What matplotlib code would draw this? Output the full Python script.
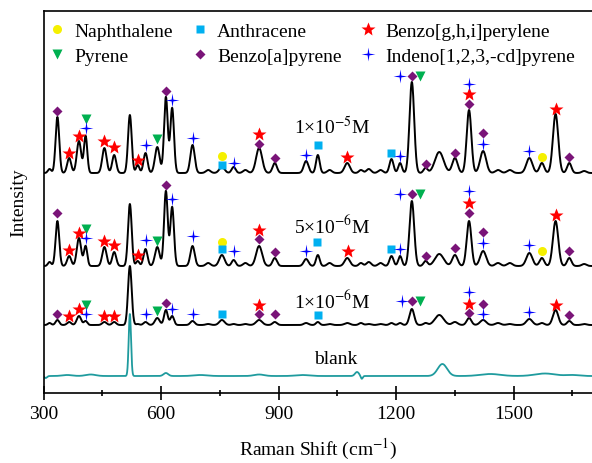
import numpy as np
import matplotlib.pyplot as plt

plt.rcParams['font.family'] = ['Liberation Serif', 'DejaVu Serif']
plt.rcParams['mathtext.fontset'] = 'stix'

# ------------------------------------------------------------------ #
# DATA  (intensity in arbitrary units)

shift_min, shift_max = 300, 1700

# peak table shared by the three PAH mixture spectra
peak_pos = [315, 335, 365, 390, 407, 455, 480, 520, 540, 560, 590, 612, 628, 680, 720, 755, 785, 815,
            850, 890, 970, 1000, 1030, 1075, 1110, 1130, 1160, 1188, 1210, 1240, 1275, 1310, 1350,
            1386, 1422, 1460, 1490, 1540, 1572, 1607, 1642, 1680]
peak_fwhm = [10, 11, 12, 13, 10, 13, 12, 11, 10, 12, 14, 11, 11, 13, 14, 16, 12, 14,
             18, 13, 14, 11, 14, 16, 12, 14, 14, 12, 11, 14, 12, 26, 16,
             14, 18, 16, 16, 18, 14, 16, 13, 14]
height_1e5 = [4, 56, 15, 32, 37, 25, 18, 58, 8, 20, 26, 76, 65, 28, 3, 6, 6, 3,
              25, 10, 12, 18, 3, 10, 3, 4, 3, 14, 10, 91, 5, 21, 15,
              63, 22, 3, 3, 15, 10, 59, 10, 2]
height_5e6 = [4, 45, 10, 28, 20, 19, 14, 62, 5, 17, 19, 75, 59, 20, 3, 11, 6, 3,
              20, 8, 7, 11, 3, 8, 3, 4, 3, 10, 10, 65, 5, 12, 11,
              45, 15, 3, 3, 13, 8, 45, 8, 2]
height_1e6 = [2, 5, 3, 9, 4, 3, 3, 59, 1, 3, 7, 15, 9, 4, 1, 5, 1, 1,
              5, 3, 2, 3, 1, 2, 2, 1, 1, 2, 2, 16, 2, 10, 3,
              7, 5, 2, 1, 6, 2, 15, 4, 1]

blank_pos = [305, 360, 420, 520, 612, 700, 850, 960, 1100, 1112, 1318, 1440, 1580, 1650]
blank_fwhm = [8, 30, 30, 7, 14, 40, 30, 40, 12, 6, 28, 60, 60, 40]
blank_height = [-2, 1, 1.5, 62, 3, 1, 1.5, 1, 4, -3, 12, 2, 2.5, 1]

offset_1e5 = 220
offset_5e6 = 127
offset_1e6 = 68
offset_blank = 17

# peak assignments: (shift, intensity) for every trace
naph_1e5 = [(755, 237), (1572, 236)]
naph_5e6 = [(755, 151), (1572, 142)]

anth_1e5 = [(755, 228), (1000, 248), (1188, 240)]
anth_5e6 = [(755, 144), (998, 151), (1188, 144)]
anth_1e6 = [(755, 79), (1000, 78)]

pyr_1e5 = [(407, 274), (590, 254), (1262, 317)]
pyr_5e6 = [(407, 164), (590, 152), (1262, 199)]
pyr_1e6 = [(407, 88), (590, 82), (1261, 92)]

bap_1e5 = [(335, 282), (612, 302), (850, 249), (890, 235), (1240, 317), (1275, 229), (1350, 240),
           (1386, 289), (1422, 260), (1642, 236)]
bap_5e6 = [(335, 180), (612, 208), (850, 154), (890, 141), (1240, 199), (1275, 137), (1350, 145),
           (1386, 180), (1422, 161), (1642, 142)]
bap_1e6 = [(335, 79), (612, 90), (850, 79), (890, 79), (1240, 92), (1386, 80), (1422, 89), (1642, 78)]

bghi_1e5 = [(365, 240), (390, 257), (455, 252), (480, 246), (540, 233), (850, 259), (1075, 236),
            (1386, 299), (1607, 284)]
bghi_5e6 = [(365, 143), (390, 160), (455, 152), (480, 148), (540, 138), (850, 163), (1078, 142),
            (1386, 190), (1607, 178)]
bghi_1e6 = [(365, 77), (390, 84), (455, 77), (480, 77), (850, 88), (1386, 89), (1607, 88)]

ind_1e5 = [(407, 265), (560, 248), (628, 293), (680, 255), (785, 230), (970, 238), (1211, 237),
           (1211, 317), (1386, 309), (1422, 249), (1540, 242)]
ind_5e6 = [(407, 155), (560, 153), (628, 194), (680, 157), (785, 142), (970, 142), (1211, 144),
           (1211, 199), (1386, 202), (1422, 150), (1540, 148)]
ind_1e6 = [(407, 79), (560, 79), (628, 84), (680, 79), (1215, 92), (1386, 101), (1422, 79), (1540, 81)]

trace_labels = ['1\u00d710$^{-5}$M', '5\u00d710$^{-6}$M', '1\u00d710$^{-6}$M', 'blank']
label_pos = [(1038, 267), (1036, 168), (1036, 93), (1046, 35)]

# ------------------------------------------------------------------ #


def spectrum(x, pos, fwhm, height, offset):
    y = np.full_like(x, float(offset))
    for p, w, h in zip(pos, fwhm, height):
        s = w / 2.3548
        y += h * np.exp(-(x - p) ** 2 / (2 * s ** 2))
    return y


shift = np.linspace(shift_min, shift_max, 2801)

# thin four-point star for Indeno[1,2,3-cd]pyrene
a = np.linspace(0, 2 * np.pi, 9)[:-1]
r = np.where(np.arange(8) % 2 == 0, 1.0, 0.18)
sparkle = list(zip(r * np.sin(a), r * np.cos(a)))

species = [
    ('Naphthalene', [naph_1e5, naph_5e6], dict(marker='o', color='#F5F000', ms=6.5)),
    ('Pyrene', [pyr_1e5, pyr_5e6, pyr_1e6], dict(marker='v', color='#00B050', ms=6.5)),
    ('Anthracene', [anth_1e5, anth_5e6, anth_1e6], dict(marker='s', color='#00B0F0', ms=5.5)),
    ('Benzo[a]pyrene', [bap_1e5, bap_5e6, bap_1e6], dict(marker='D', color='#7A1478', ms=5)),
    ('Benzo[g,h,i]perylene', [bghi_1e5, bghi_5e6, bghi_1e6], dict(marker='*', color='#FF0000', ms=10)),
    ('Indeno[1,2,3,-cd]pyrene', [ind_1e5, ind_5e6, ind_1e6], dict(marker=sparkle, color='#0000FF', ms=10)),
]

fig = plt.figure(figsize=(5.92, 4.64), dpi=100)
ax = fig.add_axes([43.7 / 592, 70 / 464, 1 - 43.7 / 592, 382 / 464])

for h, off in [(height_1e5, offset_1e5), (height_5e6, offset_5e6), (height_1e6, offset_1e6)]:
    ax.plot(shift, spectrum(shift, peak_pos, peak_fwhm, h, off), color='black', lw=1.4)
ax.plot(shift, spectrum(shift, blank_pos, blank_fwhm, blank_height, offset_blank), color='#1F9B9E', lw=1.3)

for name, groups, style in species:
    for i, pts in enumerate(groups):
        xs, ys = zip(*pts)
        ax.plot(xs, ys, ls='none', mec='none', label=name if i == 0 else None, **style)

for txt, (x, y) in zip(trace_labels, label_pos):
    ax.text(x, y, txt, ha='center', va='center', fontsize=14)

ax.legend(loc='upper left', bbox_to_anchor=(0.0, 0.985), ncol=3, frameon=False, fontsize=14,
          handlelength=0.8, handletextpad=0.5, columnspacing=0.95, labelspacing=0.36,
          borderpad=0.2, borderaxespad=0.1)

ax.set_xlim(shift_min, shift_max)
ax.set_ylim(0, 382)
ax.set_xticks([300, 600, 900, 1200, 1500])
ax.set_xticks(np.arange(450, 1700, 300), minor=True)
ax.set_yticks([])
ax.tick_params(axis='x', which='major', direction='inout', length=10, width=1.2, labelsize=14, pad=4)
ax.tick_params(axis='x', which='minor', direction='inout', length=5, width=1.2)
ax.spines['right'].set_visible(False)
for s in ['left', 'top', 'bottom']:
    ax.spines[s].set_linewidth(1.2)

ax.set_xlabel('Raman Shift (cm$^{-1}$)', fontsize=14, labelpad=10)
ax.set_ylabel('Intensity', fontsize=14, labelpad=12)

fig.savefig('out.png', dpi=100)
